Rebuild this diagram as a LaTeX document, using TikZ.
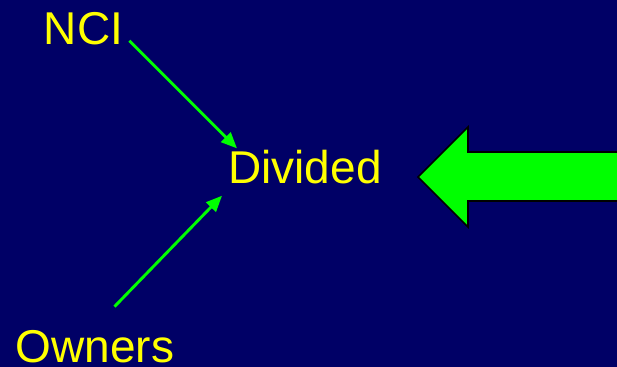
\documentclass[tikz,border=0pt]{standalone}
\usepackage{fontspec}
\setmainfont{Liberation Sans}
\usetikzlibrary{arrows.meta}
\definecolor{bg}{RGB}{0,0,102}
\definecolor{lime}{RGB}{0,255,0}
\definecolor{txt}{RGB}{255,255,0}
\begin{document}
\begin{tikzpicture}[x=0.75pt,y=-0.75pt,
  lbl/.style={text=txt,font=\fontsize{34.5pt}{40pt}\selectfont,inner sep=0pt,anchor=base},
  ptr/.style={draw=lime,line width=2.2pt,-{Triangle[length=12pt,width=10pt]}}]
\fill[bg] (0,0) rectangle (617,367);
\useasboundingbox (0,0) rectangle (617,367);
\node[lbl] (nci) at (83.5,45) {NCI};
\node[lbl] (div) at (305,183) {Divided};
\node[lbl] (own) at (95,362) {Owners};
\draw[ptr] ([shift={(6,-5)}]nci.south east) -- ([shift={(9,-1)}]div.north west);
\draw[ptr] ([shift={(99,-23)}]own.north west) -- ([shift={(-6,12)}]div.south west);
\draw[fill=lime,draw=black,line width=1.2pt] (418,177) -- (468,127) -- (468,152) -- (625,152) -- (625,201) -- (468,201) -- (468,227) -- cycle;
\end{tikzpicture}
\end{document}
